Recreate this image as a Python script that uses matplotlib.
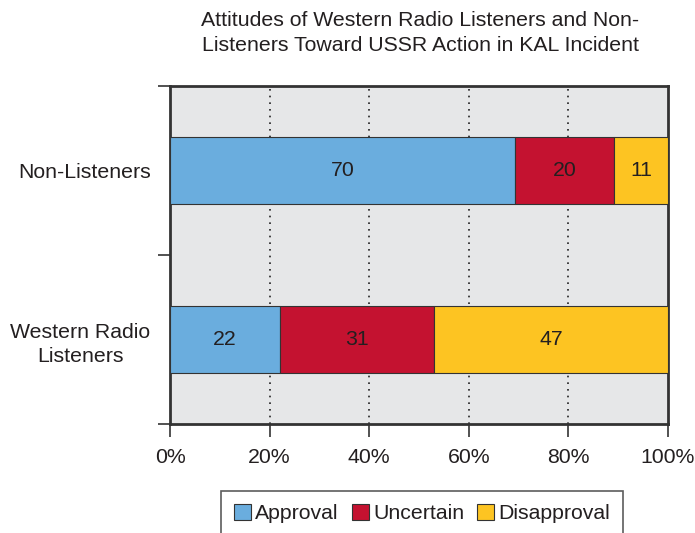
import matplotlib
matplotlib.use("Agg")
import matplotlib.pyplot as plt
import numpy as np
from matplotlib.ticker import FixedLocator, PercentFormatter

plt.rcParams['font.family'] = ['Liberation Sans', 'DejaVu Sans']

categories = ["Western Radio\nListeners", "Non-Listeners"]
series_names = ["Approval", "Uncertain", "Disapproval"]
approval = [22, 70]
uncertain = [31, 20]
disapproval = [47, 11]
colors = ["#6AADDE", "#C41230", "#FDC422"]
title = "Attitudes of Western Radio Listeners and Non-\nListeners Toward USSR Action in KAL Incident"
xticks = [0, 20, 40, 60, 80, 100]

data = np.array([approval, uncertain, disapproval], dtype=float)
totals = data.sum(axis=0)
pct = data / totals * 100

FS = 15.3

fig = plt.figure(figsize=(6.95, 5.33), dpi=100)
ax = fig.add_axes([170/695, 1-424/533, (668-170)/695, (424-86)/533])
ax.set_facecolor("#E6E7E8")

y = np.arange(len(categories))
left = np.zeros(len(categories))
for i, name in enumerate(series_names):
    ax.barh(y, pct[i], left=left, height=0.4, color=colors[i],
            edgecolor="#333333", linewidth=0.8, label=name, zorder=3)
    for j in range(len(categories)):
        ax.text(left[j] + pct[i][j]/2, y[j], f"{int(data[i][j])}",
                ha="center", va="center", fontsize=FS, color="#231F20", zorder=4)
    left += pct[i]

ax.set_xlim(0, 100)
ax.set_ylim(-0.5, 1.5)
ax.set_xticks(xticks)
ax.xaxis.set_major_formatter(PercentFormatter(decimals=0))
ax.tick_params(axis="x", direction="out", length=9, width=1.2, color="#333333",
               labelsize=FS, pad=8, labelcolor="#231F20")
ax.set_yticks(y)
ax.set_yticklabels(categories, multialignment="center", linespacing=1.35)
ax.tick_params(axis="y", which="major", length=0, labelsize=FS, pad=14,
               labelcolor="#231F20")
ax.yaxis.set_minor_locator(FixedLocator([-0.5, 0.5, 1.5]))
ax.tick_params(axis="y", which="minor", length=9, width=1.2, color="#333333")

for xv in xticks[1:-1]:
    ax.axvline(xv, color="#222222", linestyle=(0, (1, 3)), linewidth=1.2, zorder=1)

for s in ax.spines.values():
    s.set_linewidth(2)
    s.set_color("#333333")

fig.text(420/695, 1-33/533, title, ha="center", va="center", fontsize=FS,
         linespacing=1.35, color="#231F20")

leg = fig.legend(loc="upper center", bbox_to_anchor=(422/695, 1-491/533),
                 ncol=3, fontsize=FS, frameon=True, fancybox=False,
                 edgecolor="#333333", handlelength=0.8, handleheight=0.8,
                 handletextpad=0.2, columnspacing=0.6, borderpad=0.6,
                 borderaxespad=0)
leg.get_frame().set_linewidth(1.2)
for t in leg.get_texts():
    t.set_color("#231F20")

fig.savefig("out.png", dpi=100)
